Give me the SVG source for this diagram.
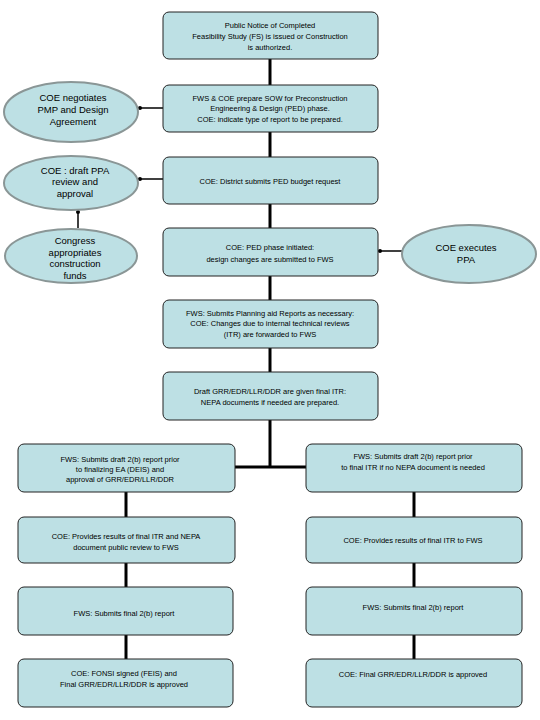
<svg xmlns="http://www.w3.org/2000/svg" width="540" height="720" viewBox="0 0 540 720">
<defs>
<style>
.box{fill:#bde0e4;stroke:#222;stroke-width:1}
.ell{fill:#bde0e4;stroke:#8a9696;stroke-width:2}
.t{font-family:"Liberation Sans",Arial,sans-serif;font-size:7.5px;fill:#000;text-anchor:middle}
.te{font-family:"Liberation Sans",Arial,sans-serif;font-size:9.5px;fill:#000;text-anchor:middle}
.main{stroke:#000;stroke-width:3;fill:none}
.thin{stroke:#000;stroke-width:1.5;fill:none}
</style>
<marker id="dot" markerWidth="6" markerHeight="6" refX="3" refY="3" markerUnits="userSpaceOnUse">
<circle cx="3" cy="3" r="2" fill="#000"/>
</marker>
</defs>
<rect width="540" height="720" fill="#fff"/>
<g id="connectors">
<line class="main" x1="270" y1="59" x2="270" y2="85"/>
<line class="main" x1="270" y1="132" x2="270" y2="157"/>
<line class="main" x1="270" y1="204" x2="270" y2="228"/>
<line class="main" x1="270" y1="276" x2="270" y2="300"/>
<line class="main" x1="270" y1="348" x2="270" y2="372"/>
<polyline class="main" points="270,420 270,467"/>
<line class="main" x1="235" y1="467" x2="306" y2="467"/>
<line class="main" x1="126" y1="492" x2="126" y2="517"/>
<line class="main" x1="126" y1="563" x2="126" y2="587"/>
<line class="main" x1="126" y1="635" x2="126" y2="659"/>
<line class="main" x1="414" y1="492" x2="414" y2="517"/>
<line class="main" x1="414" y1="563" x2="414" y2="587"/>
<line class="main" x1="414" y1="635" x2="414" y2="659"/>
<line class="thin" x1="163" y1="108" x2="140" y2="108" marker-end="url(#dot)"/>
<line class="thin" x1="163" y1="179" x2="140" y2="179" marker-end="url(#dot)"/>
<line class="thin" x1="78" y1="228" x2="78" y2="212" marker-end="url(#dot)"/>
<line class="thin" x1="402" y1="251" x2="380" y2="251" marker-end="url(#dot)"/>
</g>
<g id="n1"><rect class="box" x="163" y="12" width="215" height="47" rx="6"/>
<text class="t" x="270" y="28">Public Notice of Completed</text>
<text class="t" x="270" y="39">Feasibility Study (FS) is issued  or Construction</text>
<text class="t" x="270" y="50">is authorized.</text></g>
<g id="n2"><rect class="box" x="163" y="85" width="215" height="47" rx="6"/>
<text class="t" x="270" y="101">FWS &amp; COE prepare SOW for Preconstruction</text>
<text class="t" x="270" y="111">Engineering &amp; Design (PED) phase.</text>
<text class="t" x="270" y="122">COE: indicate type of report to be prepared.</text></g>
<g id="n3"><rect class="box" x="163" y="157" width="215" height="47" rx="6"/>
<text class="t" x="270" y="184">COE: District submits PED budget request</text></g>
<g id="n4"><rect class="box" x="163" y="228" width="215" height="48" rx="6"/>
<text class="t" x="270" y="250">COE: PED phase initiated:</text>
<text class="t" x="270" y="262">design changes are submitted to FWS</text></g>
<g id="n5"><rect class="box" x="163" y="300" width="215" height="48" rx="6"/>
<text class="t" x="270" y="316">FWS: Submits Planning aid Reports as necessary:</text>
<text class="t" x="270" y="326">COE: Changes due to internal technical reviews</text>
<text class="t" x="270" y="337">(ITR) are forwarded to FWS</text></g>
<g id="n6"><rect class="box" x="163" y="372" width="215" height="48" rx="6"/>
<text class="t" x="270" y="394">Draft GRR/EDR/LLR/DDR are given final ITR:</text>
<text class="t" x="270" y="405">NEPA documents if needed are prepared.</text></g>
<g id="e1"><ellipse class="ell" cx="71" cy="112" rx="67" ry="30"/>
<text class="te" x="73" y="101">COE negotiates</text>
<text class="te" x="73" y="113">PMP and Design</text>
<text class="te" x="73" y="125">Agreement</text></g>
<g id="e2"><ellipse class="ell" cx="71" cy="183" rx="67" ry="27"/>
<text class="te" x="75" y="174">COE : draft PPA</text>
<text class="te" x="75" y="185">review and</text>
<text class="te" x="75" y="197">approval</text></g>
<g id="e3"><ellipse class="ell" cx="71" cy="256" rx="66" ry="27"/>
<text class="te" x="75" y="244">Congress</text>
<text class="te" x="75" y="256">appropriates</text>
<text class="te" x="75" y="267">construction</text>
<text class="te" x="75" y="279">funds</text></g>
<g id="e4"><ellipse class="ell" cx="469" cy="254" rx="67" ry="29"/>
<text class="te" x="466" y="251">COE executes</text>
<text class="te" x="466" y="263">PPA</text></g>
<g id="l1"><rect class="box" x="18" y="444" width="217" height="48" rx="6"/>
<text class="t" x="120" y="462">FWS: Submits draft 2(b) report prior</text>
<text class="t" x="120" y="472">to finalizing EA (DEIS) and</text>
<text class="t" x="120" y="482">approval of GRR/EDR/LLR/DDR</text></g>
<g id="l2"><rect class="box" x="18" y="517" width="217" height="46" rx="6"/>
<text class="t" x="126" y="539">COE: Provides results of final ITR and NEPA</text>
<text class="t" x="126" y="550">document public review to FWS</text></g>
<g id="l3"><rect class="box" x="18" y="587" width="215" height="48" rx="6"/>
<text class="t" x="124" y="616">FWS: Submits final 2(b) report</text></g>
<g id="l4"><rect class="box" x="18" y="659" width="215" height="48" rx="6"/>
<text class="t" x="124" y="676">COE: FONSI signed (FEIS) and</text>
<text class="t" x="124" y="687">Final GRR/EDR/LLR/DDR is approved</text></g>
<g id="r1"><rect class="box" x="306" y="444" width="216" height="48" rx="6"/>
<text class="t" x="413" y="459">FWS: Submits draft 2(b) report prior</text>
<text class="t" x="413" y="470">to final ITR if no NEPA document is needed</text></g>
<g id="r2"><rect class="box" x="306" y="517" width="216" height="46" rx="6"/>
<text class="t" x="413" y="543">COE: Provides results of final ITR to FWS</text></g>
<g id="r3"><rect class="box" x="306" y="587" width="216" height="48" rx="6"/>
<text class="t" x="413" y="610">FWS: Submits final 2(b) report</text></g>
<g id="r4"><rect class="box" x="306" y="659" width="216" height="48" rx="6"/>
<text class="t" x="413" y="677">COE: Final GRR/EDR/LLR/DDR is approved</text></g>
</svg>
